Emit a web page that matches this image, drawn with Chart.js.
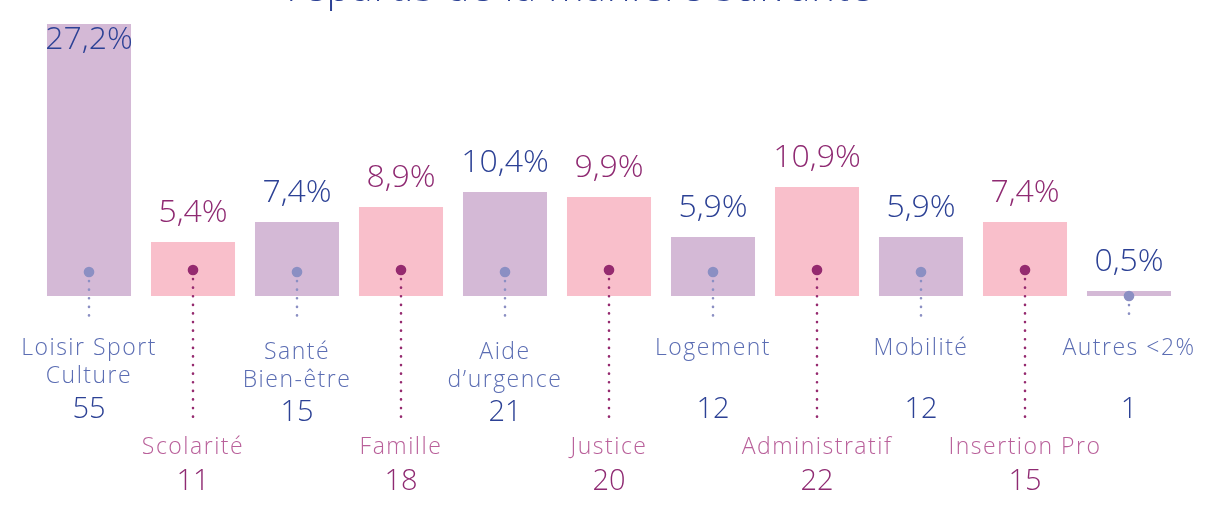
<!DOCTYPE html>
<html>
<head>
<meta charset="utf-8">
<script src="https://cdn.jsdelivr.net/npm/chart.js@4"></script>
<style>
  body { margin: 0; background: #fff; }
  #wrap { width: 1208px; height: 507px; }
</style>
</head>
<body>
<div id="wrap"><canvas id="chartRepartition" width="1208" height="507"></canvas></div>
<script>
var titre = 'répartis de la manière suivante';
var categories = [
  ['Loisir Sport', 'Culture'], ['Scolarité'], ['Santé', 'Bien-être'], ['Famille'],
  ['Aide', 'd\u2019urgence'], ['Justice'], ['Logement'], ['Administratif'],
  ['Mobilité'], ['Insertion Pro'], ['Autres <2%']
];
var pourcentages = [27.2, 5.4, 7.4, 8.9, 10.4, 9.9, 5.9, 10.9, 5.9, 7.4, 0.5];
var effectifs = [55, 11, 15, 18, 21, 20, 12, 22, 12, 15, 1];

var violet = { bar: '#d4b9d6', dot: '#8b8fc3', name: '#5b6db3', num: '#2c4195' };
var rose = { bar: '#f9bfcb', dot: '#952a6f', name: '#b9609a', num: '#8f2a72' };
var police = '"Open Sans"';

function theme(i) { return i % 2 === 0 ? violet : rose; }

var etiquettes = {
  id: 'etiquettes',
  afterDatasetsDraw: function(chart) {
    var ctx = chart.ctx;
    var meta = chart.getDatasetMeta(0);
    var base = chart.scales.y.getPixelForValue(0);
    ctx.save();
    ctx.textAlign = 'center';
    ctx.textBaseline = 'alphabetic';
    ctx.fillStyle = violet.num;
    ctx.font = '300 40px ' + police;
    ctx.letterSpacing = '1px';
    ctx.fillText(titre, 580, 1);

    meta.data.forEach(function(bar, i) {
      var t = theme(i);
      var x = bar.x;
      var low = i % 2 === 1;
      var dotY = low ? base - 26 : base - 24;
      if (base - bar.y < 30) dotY = bar.y + 5;
      // pointillés
      ctx.strokeStyle = t.dot;
      ctx.lineWidth = 2.6;
      ctx.lineCap = 'round';
      ctx.setLineDash([0.1, 8.5]);
      ctx.beginPath();
      ctx.moveTo(x, dotY + 9);
      ctx.lineTo(x, low ? 423 : 321);
      ctx.stroke();
      ctx.setLineDash([]);
      // point
      ctx.fillStyle = t.dot;
      ctx.beginPath();
      ctx.arc(x, dotY, 5.3, 0, Math.PI * 2);
      ctx.fill();
      // pourcentage
      ctx.fillStyle = t.num;
      ctx.font = '300 32px ' + police;
      ctx.letterSpacing = '0px';
      ctx.textBaseline = 'alphabetic';
      var py = Math.max(bar.y - 20, 49);
      ctx.fillText(pourcentages[i].toFixed(1).replace('.', ',') + '%', x, py);
      // nom + effectif
      ctx.textBaseline = 'middle';
      var lines = categories[i];
      ctx.font = '300 23px ' + police;
      ctx.letterSpacing = '1.5px';
      ctx.fillStyle = t.name;
      if (low) {
        ctx.fillText(lines[0], x, 447);
        ctx.fillStyle = t.num;
        ctx.font = '300 29px ' + police;
        ctx.letterSpacing = '0px';
        ctx.fillText(String(effectifs[i]), x, 482);
      } else {
        var y0 = (lines.length === 2 && i > 0) ? 352 : 348;
        lines.forEach(function(l, k) { ctx.fillText(l, x, y0 + k * 28); });
        ctx.fillStyle = t.num;
        ctx.font = '300 29px ' + police;
        ctx.letterSpacing = '0px';
        ctx.fillText(String(effectifs[i]), x, (lines.length === 2 && i > 0) ? 413 : 410);
      }
    });
    ctx.restore();
  }
};

var ctx = document.getElementById('chartRepartition');
var myChart = new Chart(ctx, {
  type: 'bar',
  data: {
    labels: categories,
    datasets: [{
      label: 'Répartition',
      data: pourcentages,
      backgroundColor: pourcentages.map(function(v, i) { return theme(i).bar; }),
      borderWidth: 0,
      barPercentage: 0.808,
      categoryPercentage: 1
    }]
  },
  options: {
    responsive: false,
    animation: false,
    layout: { padding: { left: 37, right: 27, top: 0, bottom: 211 } },
    plugins: { legend: { display: false }, tooltip: { enabled: false } },
    scales: {
      x: { display: false },
      y: { display: false, min: 0, max: 29.6 }
    }
  },
  plugins: [etiquettes]
});
</script>
</body>
</html>
